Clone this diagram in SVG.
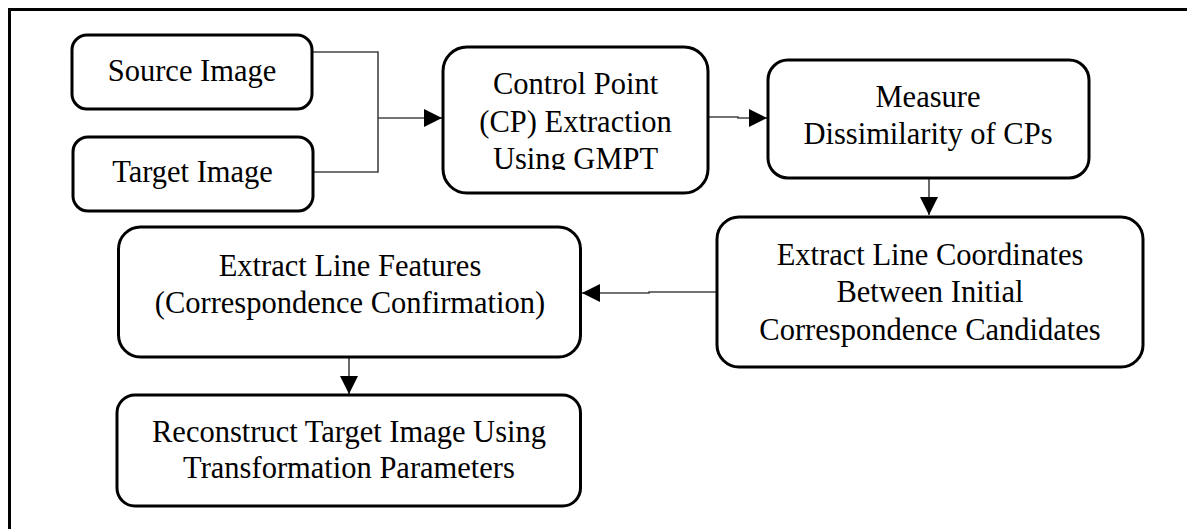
<svg xmlns="http://www.w3.org/2000/svg" width="1187" height="529" viewBox="0 0 1187 529">
<style>
.box{fill:#fff;stroke:#000;stroke-width:3}
.t{font-size:30.5px;fill:#000;text-anchor:middle}
.c{fill:none;stroke:#444;stroke-width:1.6}
.frame{fill:none;stroke:#000;stroke-width:3}
</style>
<defs>
<marker id="ah" viewBox="0 0 10 10" refX="10" refY="5" markerWidth="19" markerHeight="18" markerUnits="userSpaceOnUse" orient="auto">
<path d="M0,0 L10,5 L0,10 z" fill="#000"/>
</marker>
<clipPath id="cpclip"><rect x="443" y="47" width="265" height="123"/></clipPath>
</defs>
<rect width="1187" height="529" fill="#fff"/>
<rect class="frame" x="9.5" y="9.5" width="1250" height="600"/>
<g id="connectors">
<path class="c" d="M312,52 H378 V172 H313"/>
<path class="c" d="M378,118 H442" marker-end="url(#ah)"/>
<path class="c" d="M708,117 H738 V118 H767" marker-end="url(#ah)"/>
<path class="c" d="M929,178 V215" marker-end="url(#ah)"/>
<path class="c" d="M717,292 H649 V293 H582" marker-end="url(#ah)"/>
<path class="c" d="M349,357 V394" marker-end="url(#ah)"/>
</g>
<g font-family="Liberation Serif, Times New Roman, Tinos, DejaVu Serif, serif">
<g id="source">
<rect class="box" x="72" y="35" width="240" height="74" rx="15"/>
<text class="t" x="192" y="81">Source Image</text>
</g>
<g id="target">
<rect class="box" x="73" y="137" width="240" height="74" rx="15"/>
<text class="t" x="192.5" y="182">Target Image</text>
</g>
<g id="cp">
<rect class="box" x="443" y="47" width="265" height="146" rx="24"/>
<g clip-path="url(#cpclip)">
<text class="t" x="575.5" y="94">Control Point</text>
<text class="t" x="575.5" y="132">(CP) Extraction</text>
<text class="t" x="575.5" y="169">Using GMPT</text>
</g>
</g>
<g id="measure">
<rect class="box" x="768" y="60" width="321" height="118" rx="20"/>
<text class="t" x="928" y="107">Measure</text>
<text class="t" x="928" y="144">Dissimilarity of CPs</text>
</g>
<g id="coords">
<rect class="box" x="717" y="217" width="426" height="150" rx="22"/>
<text class="t" x="930" y="265">Extract Line Coordinates</text>
<text class="t" x="930" y="302">Between Initial</text>
<text class="t" x="930" y="340">Correspondence Candidates</text>
</g>
<g id="features">
<rect class="box" x="118.5" y="227" width="462" height="130" rx="22"/>
<text class="t" x="350" y="276">Extract Line Features</text>
<text class="t" x="350" y="313">(Correspondence Confirmation)</text>
</g>
<g id="reconstruct">
<rect class="box" x="117" y="395" width="463.5" height="111" rx="18"/>
<text class="t" x="349" y="442">Reconstruct Target Image Using</text>
<text class="t" x="349" y="478">Transformation Parameters</text>
</g>
</g>
</svg>
